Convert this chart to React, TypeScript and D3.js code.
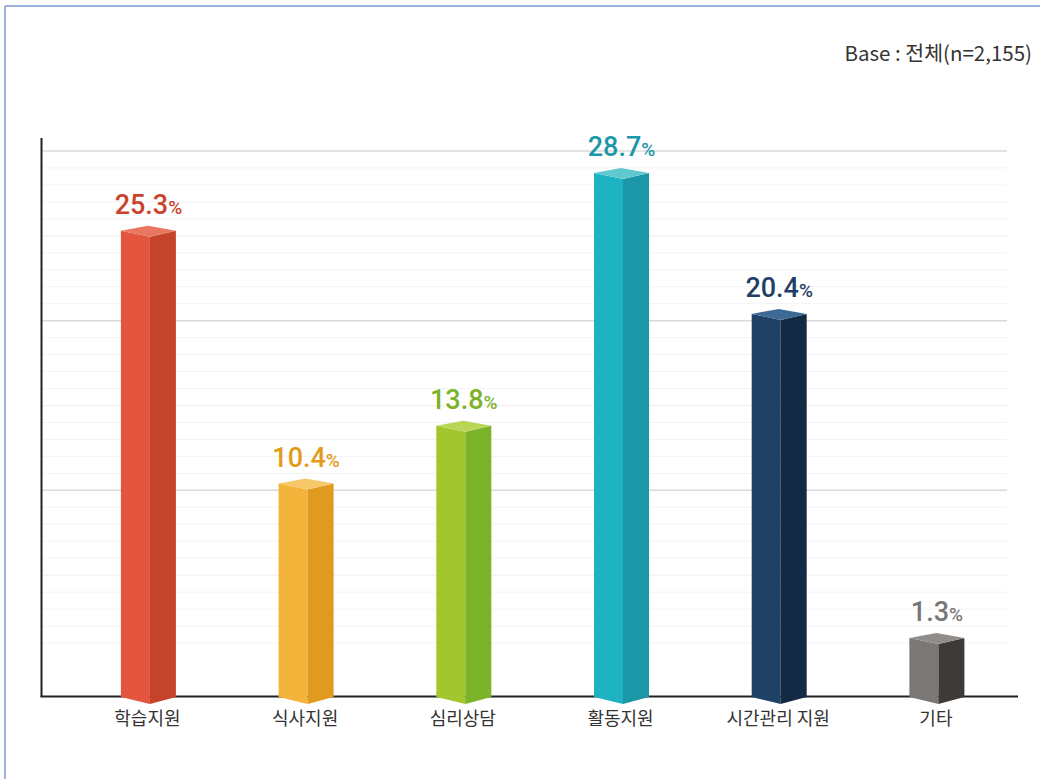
import React from "react";
import * as d3 from "d3";

const categories = ["학습지원", "식사지원", "심리상담", "활동지원", "시간관리 지원", "기타"];
const values = [25.3, 10.4, 13.8, 28.7, 20.4, 1.3];
const frontColors = ["#e3553d", "#f4b43b", "#a2c72e", "#1db3c3", "#1f4166", "#7a7774"];
const sideColors = ["#c5432a", "#e09b1e", "#7bb32b", "#1c97a8", "#132a45", "#3e3a37"];
const topColors = ["#e9765f", "#f7c86a", "#b9d656", "#62c8d0", "#3d6a94", "#908d8a"];
const labelColors = ["#c9432c", "#e49b1a", "#7cb32b", "#1a97a8", "#1f3f66", "#777777"];
const majorTicks = [10, 20, 30];
const minorTicks = d3.range(1, 30).filter((v) => v % 10 !== 0);
const baseNote = "Base : 전체(n=2,155)";

const W = 1040;
const H = 779;
const axisX = 41.5;
const baseY = 697;
const gridRight = 1007;

export default function App() {
  const y = d3.scaleLinear().domain([0, 30]).range([660, 151]);
  const x = d3.scalePoint<string>().domain(categories).range([148.4, 936.9]);
  const frontW = 29;
  const sideW = 26;
  const kr = "'Noto Sans CJK KR', 'Noto Sans', sans-serif";
  const num = "Roboto, 'Noto Sans', sans-serif";

  return (
    <svg
      width={W}
      height={H}
      style={{ position: "absolute", left: 0, top: 0, display: "block", background: "#fff" }}
    >
      {/* frame */}
      <line x1={5} y1={6} x2={W} y2={6} stroke="#7b9bd0" strokeWidth={1.5} />
      <line x1={5} y1={6} x2={5} y2={H} stroke="#7b9bd0" strokeWidth={1.5} />

      <text x={1032} y={61} textAnchor="end" fontFamily={kr} fontSize={20.5} fill="#333">
        {baseNote}
      </text>

      {/* grid */}
      {minorTicks.map((t) => (
        <line
          key={"m" + t}
          x1={axisX}
          x2={gridRight}
          y1={y(t)}
          y2={y(t)}
          stroke={t % 5 === 0 ? "#f6eaea" : "#f3f3f3"}
          strokeWidth={1}
        />
      ))}
      {majorTicks.map((t) => (
        <line key={"M" + t} x1={axisX} x2={gridRight} y1={y(t)} y2={y(t)} stroke="#dadada" strokeWidth={1.5} />
      ))}

      {/* axes */}
      <line x1={axisX} x2={axisX} y1={138} y2={baseY} stroke="#222" strokeWidth={2} />
      <line x1={axisX - 1} x2={1018} y1={baseY - 0.5} y2={baseY - 0.5} stroke="#222" strokeWidth={2} />

      {/* bars */}
      {categories.map((c, i) => {
        const cx = x(c) as number;
        const xl = cx - (frontW + sideW) / 2;
        const xm = xl + frontW;
        const xr = xm + sideW;
        const yt = y(values[i]);
        const front = `M${xl},${yt} L${xm},${yt + 6} L${xm},${baseY + 7} L${xl},${baseY} Z`;
        const side = `M${xm},${yt + 6} L${xr},${yt} L${xr},${baseY} L${xm},${baseY + 7} Z`;
        const top = `M${xl},${yt} L${xm - 2},${yt - 5} L${xr},${yt} L${xm},${yt + 6} Z`;
        const v = values[i].toFixed(1);
        return (
          <g key={c}>
            <path d={front} fill={frontColors[i]} />
            <path d={side} fill={sideColors[i]} />
            <path d={top} fill={topColors[i]} />
            <text
              x={cx}
              y={yt - 17}
              textAnchor="middle"
              fontFamily={num}
              fontWeight={500}
              fill={labelColors[i]}
            >
              <tspan fontSize={27}>{v}</tspan>
              <tspan fontSize={19}>%</tspan>
            </text>
            <text x={cx - 1} y={725} textAnchor="middle" fontFamily={kr} fontSize={18} fill="#333">
              {c}
            </text>
          </g>
        );
      })}
    </svg>
  );
}
